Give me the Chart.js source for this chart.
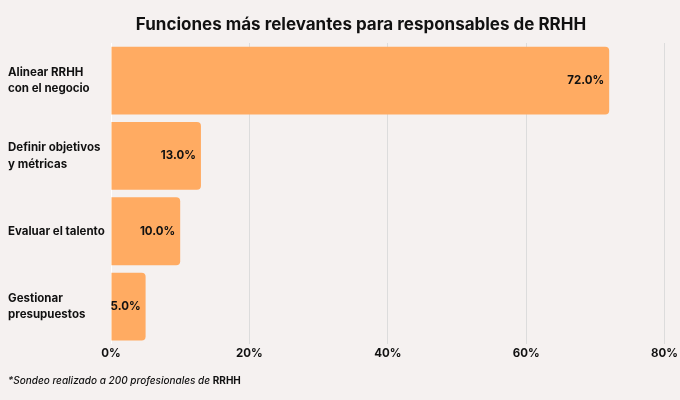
<!doctype html>
<html>
    <head>
        <meta charset="utf-8">
        <title>Funciones RRHH</title>
        <script src="https://cdn.jsdelivr.net/npm/chart.js@4.4.0/dist/chart.umd.min.js"></script>
        <style>
            body{ margin:0; background:#f5f1f0; }
            .chartContainer{ width:680px; height:400px; }
        </style>
    </head>
    <body>
        <div class="chartContainer">
            <canvas id="rrhhChart" width="680" height="400"></canvas>
        </div>
        <script>
        // data
        var categories = [['Alinear RRHH','con el negocio'], ['Definir objetivos','y métricas'], 'Evaluar el talento', ['Gestionar','presupuestos']];
        var values = [72.0, 13.0, 10.0, 5.0];
        var xTicks = [0, 20, 40, 60, 80];
        var titleText = 'Funciones más relevantes para responsables de RRHH';
        var noteText = '*Sondeo realizado a 200 profesionales de ';
        var noteBold = 'RRHH';

        var FONT = 'Inter, "Noto Sans", sans-serif';

        // title, footnote and value labels
        var extras = {
            id: 'extras',
            afterDatasetsDraw: function(chart){
                var ctx = chart.ctx;
                ctx.save();
                ctx.fillStyle = '#111';
                ctx.font = '700 17px ' + FONT;
                ctx.textAlign = 'center';
                ctx.textBaseline = 'middle';
                ctx.fillText(titleText, 361, 25);

                ctx.font = 'italic 500 10px ' + FONT;
                ctx.textAlign = 'left';
                ctx.fillText(noteText, 8, 381);
                var w = ctx.measureText(noteText).width;
                ctx.font = '700 10px ' + FONT;
                ctx.fillText(noteBold, 8 + w, 381);

                var meta = chart.getDatasetMeta(0);
                ctx.font = '700 11.5px ' + FONT;
                ctx.textAlign = 'right';
                meta.data.forEach(function(bar, i){
                    ctx.fillText(values[i].toFixed(1) + '%', bar.x - 5, bar.y);
                });
                ctx.restore();
            }
        };

        var chart = new Chart(document.getElementById('rrhhChart'), {
            type: 'bar',
            data: {
                labels: categories,
                datasets: [{
                    data: values,
                    backgroundColor: '#ffab62',
                    borderRadius: 4,
                    borderSkipped: 'start',
                    barPercentage: 0.9,
                    categoryPercentage: 1.0
                }]
            },
            options: {
                indexAxis: 'y',
                responsive: false,
                animation: false,
                layout: { padding: { top: 43, left: 8, right: 15, bottom: 38 } },
                plugins: {
                    legend: { display: false },
                    tooltip: { enabled: false }
                },
                scales: {
                    x: {
                        min: 0,
                        max: 80,
                        afterBuildTicks: function(scale){
                            scale.ticks = xTicks.map(function(v){ return { value: v }; });
                        },
                        grid: {
                            color: function(c){ return c.tick && c.tick.value === 0 ? '#ffffff' : '#dcdcdc'; },
                            drawTicks: false
                        },
                        border: { display: false },
                        ticks: {
                            color: '#111',
                            padding: 2,
                            font: { family: FONT, size: 11.5, weight: '700' },
                            callback: function(v){ return v + '%'; }
                        }
                    },
                    y: {
                        afterFit: function(scale){ scale.width = 103; },
                        grid: { display: false },
                        border: { display: false },
                        ticks: {
                            color: '#111',
                            crossAlign: 'far',
                            padding: 6,
                            font: { family: FONT, size: 11.5, weight: '700', lineHeight: 1.45 }
                        }
                    }
                }
            },
            plugins: [extras]
        });
        </script>
    </body>
</html>
